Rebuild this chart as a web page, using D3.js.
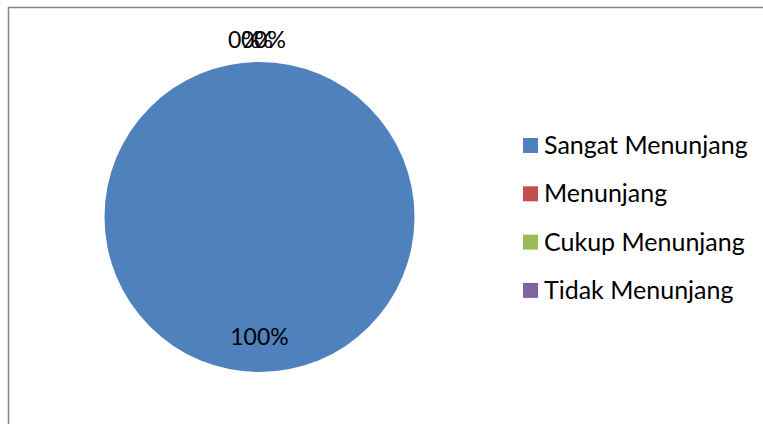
<!DOCTYPE html>
<html><head><meta charset="utf-8">
<script src="https://cdn.jsdelivr.net/npm/d3@7/dist/d3.min.js"></script>
<style>html,body{margin:0;padding:0;background:#fff;}svg{display:block;}</style>
</head><body>
<svg id="chart" width="763" height="424"></svg>
<script>
const categories = ["Sangat Menunjang", "Menunjang", "Cukup Menunjang", "Tidak Menunjang"];
const values = [100, 0, 0, 0];
const colors = ["#4F81BD", "#C0504D", "#9BBB59", "#8064A2"];

const svg = d3.select("#chart");
const W = 763, H = 424;
const font = "Lato, 'Open Sans', sans-serif";

// frame
svg.append("path")
  .attr("d", `M8.5,${H} L8.5,7.5 L${W},7.5`)
  .attr("fill", "none").attr("stroke", "#868686").attr("stroke-width", 1.5);

const cx = 259.5, cy = 217, r = 155;
const total = d3.sum(values);
const pie = d3.pie().sort(null).value(d => d)(values);
const arc = d3.arc().innerRadius(0).outerRadius(r);
const g = svg.append("g").attr("transform", `translate(${cx},${cy})`);

g.selectAll("path.slice").data(pie).enter().append("path")
  .attr("class", "slice")
  .attr("d", arc)
  .attr("fill", (d, i) => colors[i]);

const fmt = v => Math.round(v / total * 100) + "%";
const inArc = d3.arc().innerRadius(r * 0.77).outerRadius(r * 0.77);
const outArc = d3.arc().innerRadius(r + 23).outerRadius(r + 23);
let zi = 0;
pie.forEach((d, i) => {
  let p, dx = 0;
  if (d.data > 0) { p = inArc.centroid(d); }
  else { p = outArc.centroid(d); dx = -15.5 + zi * 13; zi++; }
  g.append("text")
    .attr("x", p[0] + dx).attr("y", p[1])
    .attr("text-anchor", "middle").attr("dominant-baseline", "central")
    .attr("font-family", font).attr("font-size", 23).attr("fill", "#000")
    .text(fmt(d.data));
});

// legend
const leg = svg.append("g").attr("transform", "translate(523,138)");
const items = leg.selectAll("g").data(categories).enter().append("g")
  .attr("transform", (d, i) => `translate(0,${i * 48.3})`);
items.append("rect").attr("width", 15).attr("height", 15).attr("fill", (d, i) => colors[i]);
items.append("text").attr("x", 21).attr("y", 16)
  .attr("font-family", font).attr("font-size", 25).attr("fill", "#000")
  .text(d => d);
</script>
</body></html>
